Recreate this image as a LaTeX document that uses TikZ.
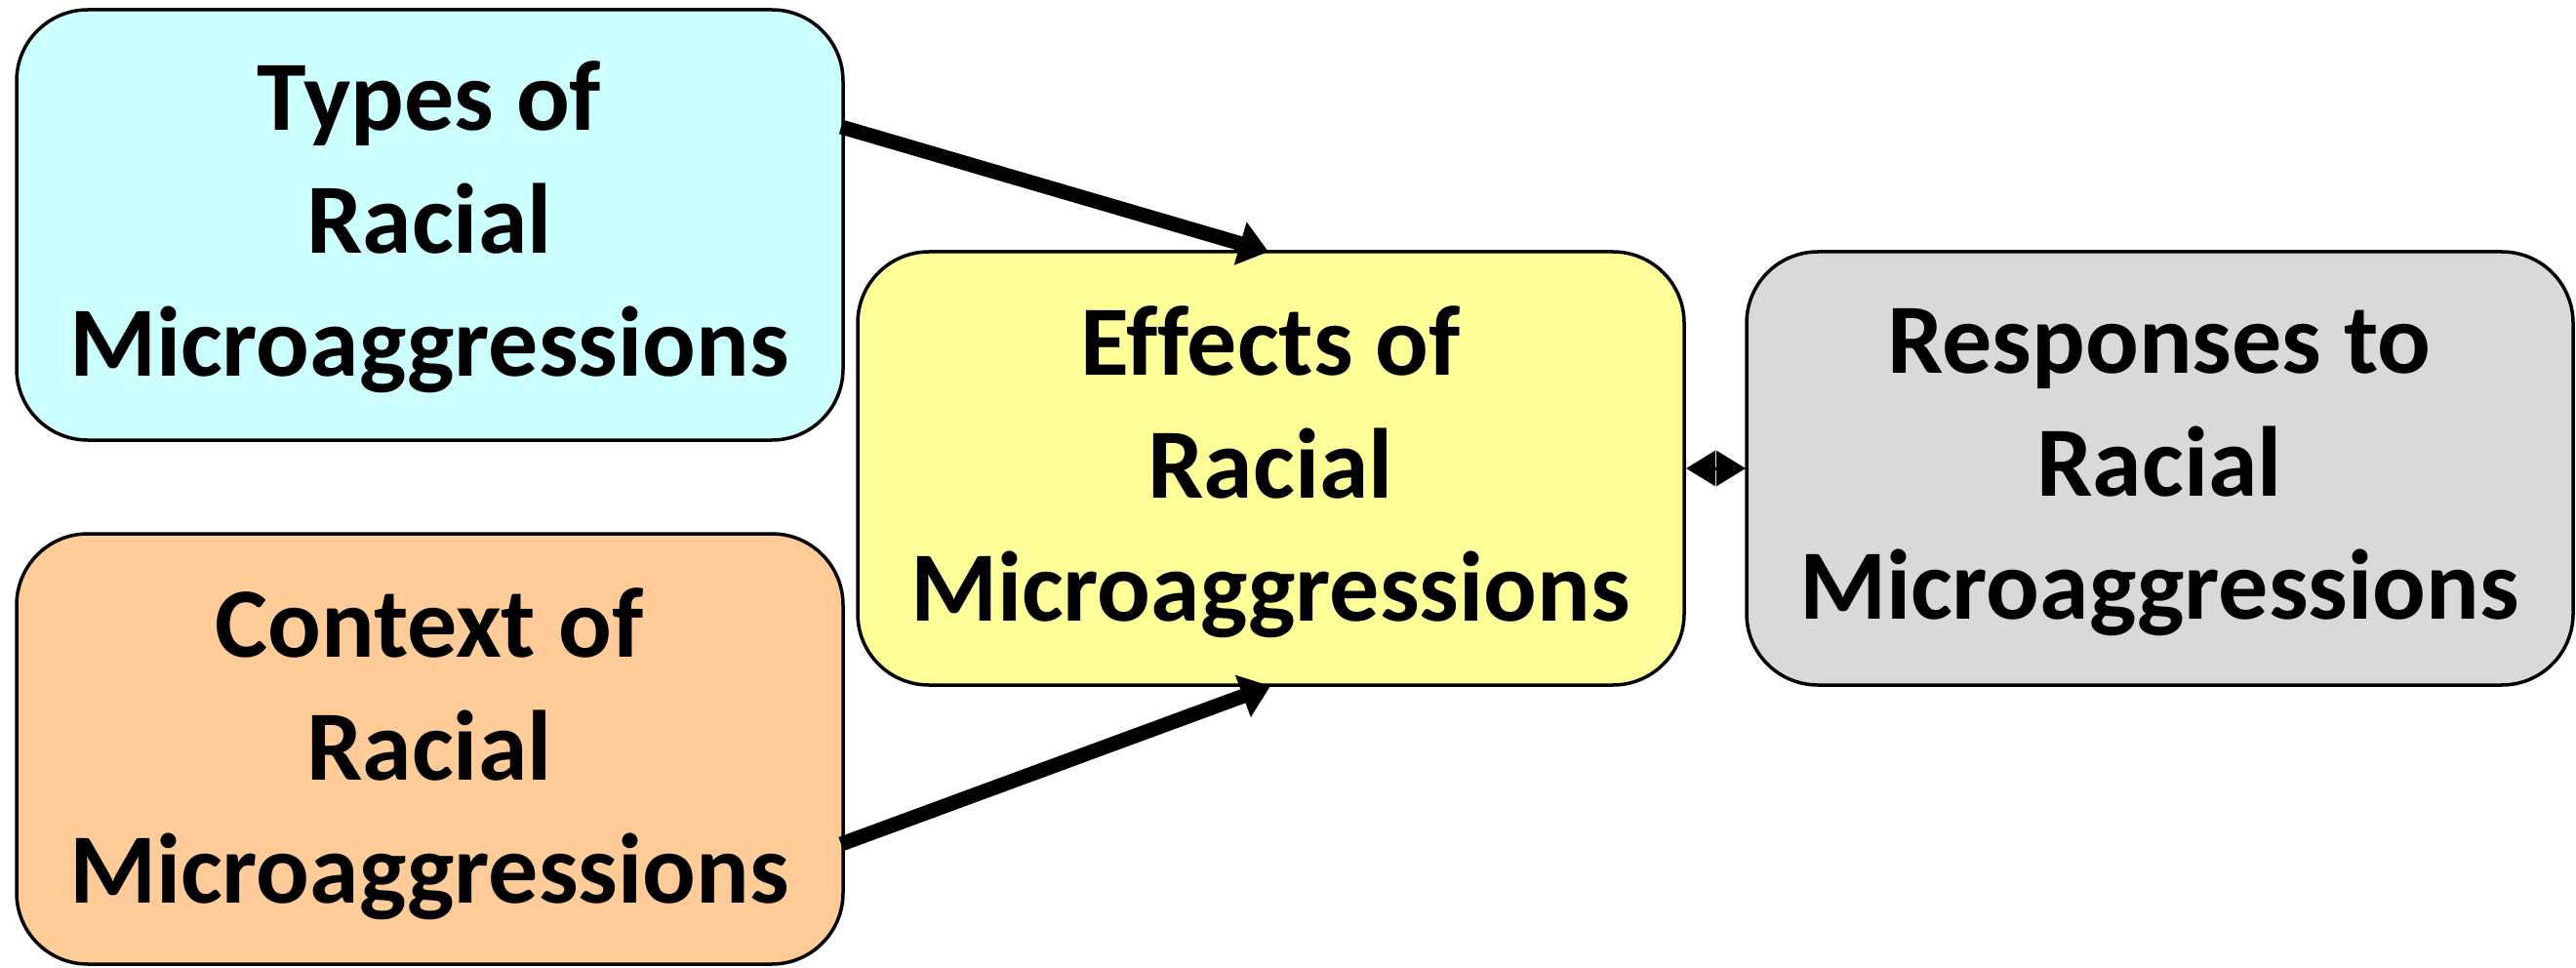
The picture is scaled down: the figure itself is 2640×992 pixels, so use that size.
\documentclass[tikz,border=0pt]{standalone}
\usepackage{fontspec}
\setmainfont[Ligatures=NoCommon]{Carlito}
\usetikzlibrary{arrows.meta,calc}
\definecolor{cyanbox}{HTML}{CCFFFF}
\definecolor{orangebox}{HTML}{FFCC99}
\definecolor{yellowbox}{HTML}{FFFF99}
\definecolor{greybox}{HTML}{D9D9D9}
\tikzset{
  rbox/.style={draw=black, line width=3.5pt, rounded corners=73pt},
  lbl/.style={align=center, font=\fontsize{102}{126}\selectfont\bfseries},
  bigarrow/.style={line width=15pt, -{Triangle[length=30pt,width=44pt]}},
  smallarrow/.style={line width=3pt, -{Triangle[length=30pt,width=36pt]}}
}
\begin{document}
\begin{tikzpicture}[x=1pt,y=-1pt]
\useasboundingbox (0,0) rectangle (2640,992);
\fill[white] (0,0) rectangle (2640,992);
% boxes
\draw[rbox, fill=cyanbox] (17,10) rectangle (864,451);
\node[lbl] (types) at (440,233) {Types of\\Racial\\Microaggressions};
\draw[rbox, fill=orangebox] (17,547) rectangle (864,988);
\node[lbl] (context) at (440,773) {Context of\\Racial\\Microaggressions};
\draw[rbox, fill=yellowbox] (879,258) rectangle (1726,702);
\node[lbl] (effects) at (1302,484) {Ef{}fects of\\Racial\\Microaggressions};
\draw[rbox, fill=greybox] (1790,258) rectangle (2637,702);
\node[lbl] (responses) at (2213,484) {Responses to\\Racial\\Microaggressions};
% connector end points
\coordinate (typesout) at (862,130);
\coordinate (effectstop) at (1300,258);
\coordinate (contextout) at (862,865);
\coordinate (effectsbot) at (1302,703);
\coordinate (mid) at (1758,480);
\coordinate (effectsright) at (1728,480);
\coordinate (responsesleft) at (1789,480);
\draw[bigarrow] (typesout) -- (effectstop);
\draw[bigarrow] (contextout) -- (effectsbot);
\draw[smallarrow] (mid) -- (effectsright);
\draw[smallarrow] (mid) -- (responsesleft);
\end{tikzpicture}
\end{document}
